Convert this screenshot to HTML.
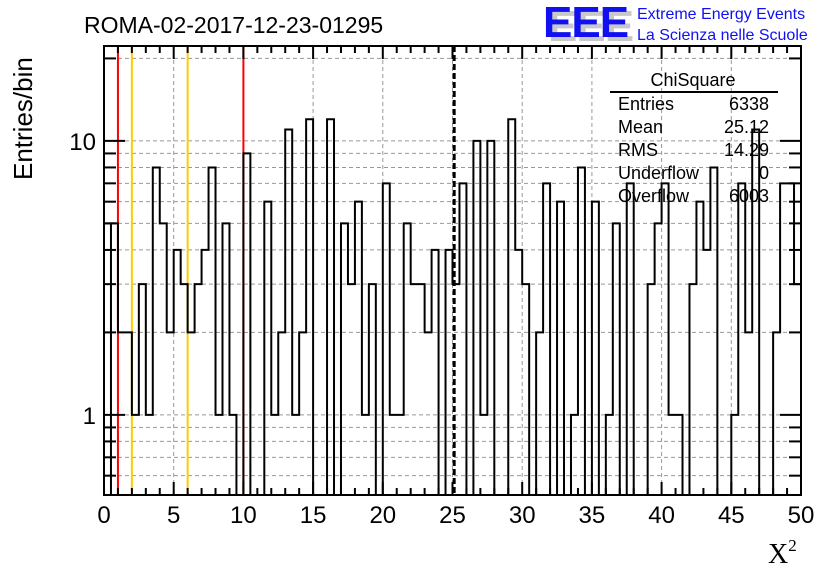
<!DOCTYPE html>
<html><head><meta charset="utf-8"><style>
body{margin:0;background:#fff;}
svg{display:block;font-family:"Liberation Sans",sans-serif;}
</style></head><body>
<svg id="chart" width="836" height="572" viewBox="0 0 836 572">
<g id="grid"></g>
<g id="marks"></g>
<path id="hist" fill="none" stroke="#000" stroke-width="2"/>
<rect x="104" y="46" width="697" height="449" fill="none" stroke="#000" stroke-width="2"/>
<g id="ticks"></g>
<text x="84" y="33" font-size="23">ROMA-02-2017-12-23-01295</text>
<g>
<text x="548" y="41" font-size="44" font-weight="bold" fill="#c8c8c8" letter-spacing="-1">EEE</text>
<text x="543" y="37" font-size="44" font-weight="bold" fill="#1010f0" letter-spacing="-1">EEE</text>
<text x="637" y="19" font-size="16" fill="#1010f0">Extreme Energy Events</text>
<text x="637" y="40" font-size="16" fill="#1010f0">La Scienza nelle Scuole</text>
</g>
<text transform="translate(32,180) rotate(-90)" font-size="26">Entries/bin</text>
<text x="768" y="563" font-size="28" font-family="Liberation Serif,serif">X<tspan font-size="17" dy="-12">2</tspan></text>
<g font-size="18">
<text x="693" y="86" text-anchor="middle">ChiSquare</text>
<line x1="610" y1="92" x2="778" y2="92" stroke="#000" stroke-width="2"/>
<text x="618" y="110">Entries</text><text x="769" y="110" text-anchor="end">6338</text>
<text x="618" y="133">Mean</text><text x="769" y="133" text-anchor="end">25.12</text>
<text x="618" y="156">RMS</text><text x="769" y="156" text-anchor="end">14.29</text>
<text x="618" y="179">Underflow</text><text x="769" y="179" text-anchor="end">0</text>
<text x="618" y="202">Overflow</text><text x="769" y="202" text-anchor="end">6003</text>
</g>
</svg>
<script>
const counts=[5,5,2,2,1,3,1,8,5,2,4,3,2,3,4,8,1,5,1,0,9,0,0,6,1,2,11,1,2,12,0,0,12,0,5,3,6,1,3,0,7,1,1,5,3,3,2,4,0,4,3,7,0,10,1,10,0,0,12,4,3,0,2,7,0,6,0,1,8,0,6,0,1,5,0,7,0,0,3,5,7,1,1,0,3,6,4,8,0,0,1,7,2,11,0,0,2,7,7,3];
const xTickLabels=[0,5,10,15,20,25,30,35,40,45,50];
const yTickLabels=[1,10];
const redLines=[1,10];
const orangeLines=[2,6];
const meanLine=[25.12];
const binWidth=0.5;
const X0=104,X1=801,Y0=46,Y1=495,XMIN=0,XMAX=50,LMIN=Math.log10(0.51),LMAX=Math.log10(22.2);
const NS="http://www.w3.org/2000/svg";
function sx(v){return X0+(v-XMIN)/(XMAX-XMIN)*(X1-X0);}
function sy(v){if(v<=0)return Y1;return Y1-(Math.log10(v)-LMIN)/(LMAX-LMIN)*(Y1-Y0);}
function mk(tag,attrs,parent){const e=document.createElementNS(NS,tag);for(const k in attrs)e.setAttribute(k,attrs[k]);parent.appendChild(e);return e;}
const grid=document.getElementById('grid'),ticks=document.getElementById('ticks'),marks=document.getElementById('marks');
for(const v of xTickLabels){if(v===XMIN||v===XMAX)continue;
const l=mk('line',{x1:sx(v),x2:sx(v),y1:Y0,y2:Y1,stroke:'#999','stroke-dasharray':'4,3','stroke-width':1},grid);

}
const yminor=[0.6,0.7,0.8,0.9,1,2,3,4,5,6,7,8,9,10,20];
for(const v of yminor){const y=sy(v);
const g=mk('line',{x1:X0,x2:X1,y1:y,y2:y,stroke:'#999','stroke-dasharray':'4,3','stroke-width':1},grid);


const major=yTickLabels.includes(v);const len=major?21:12;
mk('line',{x1:X0,x2:X0+len,y1:y,y2:y,stroke:'#000','stroke-width':2},ticks);
mk('line',{x1:X1,x2:X1-len,y1:y,y2:y,stroke:'#000','stroke-width':2},ticks);}
for(const v of yTickLabels){const t=mk('text',{x:X0-8,y:sy(v)+9,'font-size':24,'text-anchor':'end'},ticks);t.textContent=v;

}
for(let v=XMIN;v<=XMAX;v++){const major=v%5===0;const len=major?13:7;
mk('line',{x1:sx(v),x2:sx(v),y1:Y1,y2:Y1-len,stroke:'#000','stroke-width':2},ticks);
mk('line',{x1:sx(v),x2:sx(v),y1:Y0,y2:Y0+len,stroke:'#000','stroke-width':2},ticks);}
for(const v of xTickLabels){const t=mk('text',{x:sx(v),y:Y1+28,'font-size':24,'text-anchor':'middle'},ticks);t.textContent=v;

}
for(const v of redLines){const l=mk('line',{x1:sx(v),x2:sx(v),y1:Y0,y2:Y1,stroke:'#f00','stroke-width':2},marks);

}
for(const v of orangeLines){const l=mk('line',{x1:sx(v),x2:sx(v),y1:Y0,y2:Y1,stroke:'#fc0','stroke-width':2},marks);

}
let d='M'+sx(0)+','+Y1;
counts.forEach((c,i)=>{const xa=sx(i*binWidth),xb=sx((i+1)*binWidth),y=sy(c);d+=' L'+xa+','+y+' L'+xb+','+y;});
d+=' L'+sx(counts.length*binWidth)+','+Y1;
d+=' M'+sx(binWidth)+','+sy(counts[1])+' L'+sx(binWidth)+','+Y1;
document.getElementById('hist').setAttribute('d',d);
for(const v of meanLine){const l=mk('line',{x1:sx(v),x2:sx(v),y1:Y0,y2:Y1,stroke:'#000','stroke-width':3,'stroke-dasharray':'6,3'},document.getElementById('chart'));

}
</script>
</body></html>
